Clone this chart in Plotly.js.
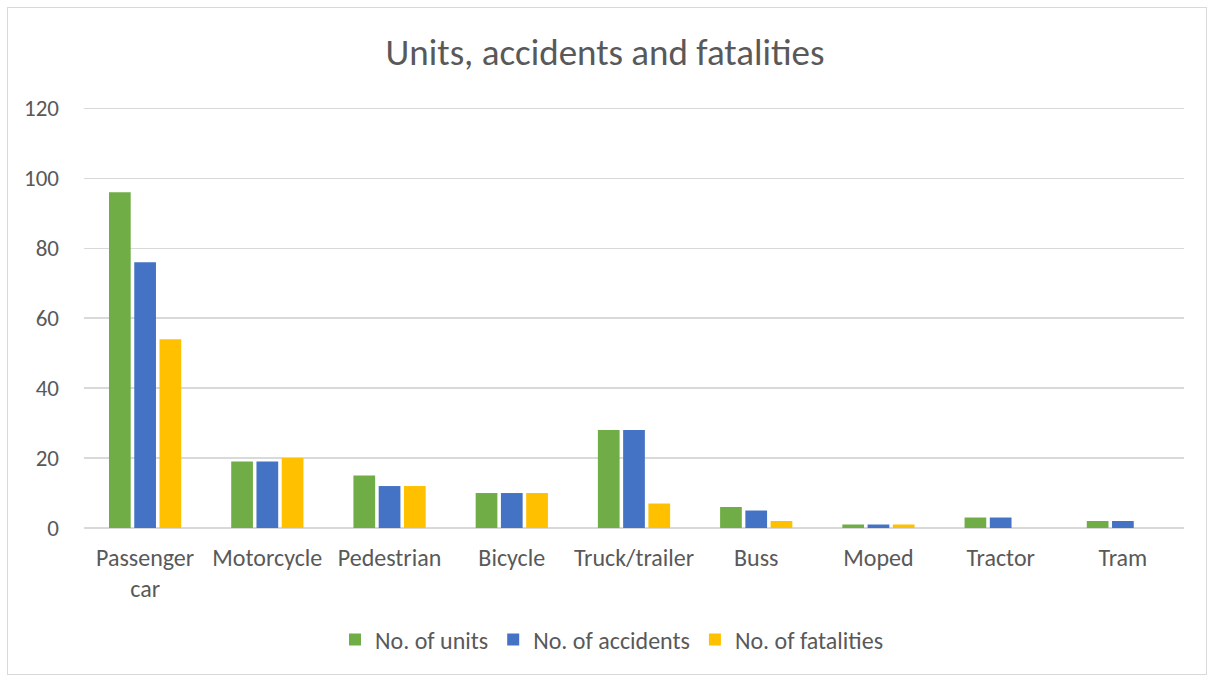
<!DOCTYPE html>
<html>
<head>
<meta charset="utf-8">
<script src="https://cdn.plot.ly/plotly-3.0.1.min.js"></script>
<style>
html,body{margin:0;padding:0;background:#fff;}
#wrap{position:relative;width:1210px;height:678px;}
#chart{position:absolute;left:0;top:0;width:1210px;height:678px;}
#frame{position:absolute;left:7px;top:7px;width:1200px;height:668px;border:1px solid #d9d9d9;box-sizing:border-box;pointer-events:none;}
</style>
</head>
<body>
<div id="wrap"><div id="chart"></div><div id="frame"></div></div>
<script>
const categories = ["Passenger<br>car","Motorcycle","Pedestrian","Bicycle","Truck/trailer","Buss","Moped","Tractor","Tram"];
const units = [96,19,15,10,28,6,1,3,2];
const accidents = [76,19,12,10,28,5,1,3,2];
const fatalities = [54,20,12,10,7,2,1,0,0];
const yTicks = [0,20,40,60,80,100,120];

const font = "Calibri, Carlito, Lato, 'Liberation Sans', sans-serif";
const grey = "#595959";

const traces = [
  {type:"bar", name:"No. of units", x:categories, y:units, marker:{color:"#70AD47"}},
  {type:"bar", name:"No. of accidents", x:categories, y:accidents, marker:{color:"#4472C4"}},
  {type:"bar", name:"No. of fatalities", x:categories, y:fatalities, marker:{color:"#FFC000"}}
];

const layout = {
  width:1210, height:678,
  paper_bgcolor:"rgba(0,0,0,0)", plot_bgcolor:"#fff",
  margin:{l:84, r:26, t:107, b:150},
  font:{family:font, color:grey, size:24},
  title:{text:"Units, accidents and fatalities", font:{family:font, size:37, color:grey}, x:0.5, xanchor:"center", y:0.923, yanchor:"middle", yref:"container"},
  barmode:"group", bargap:0.38, bargroupgap:0.14,
  xaxis:{showgrid:false, zeroline:false, showline:false, ticks:"", tickfont:{size:24, color:grey}, ticklabelstandoff:13},
  yaxis:{range:[0,120.4], tickvals:yTicks, showgrid:true, gridcolor:"#d9d9d9", gridwidth:1.5, zeroline:true, zerolinecolor:"#d9d9d9", zerolinewidth:1.5, showline:false, ticks:"", tickfont:{size:23, color:grey}, ticklabelstandoff:24},
  legend:{orientation:"h", x:0.48, xanchor:"center", y:-0.266, yanchor:"middle", font:{size:24, color:grey}, itemwidth:30, traceorder:"normal"},
  showlegend:true
};

Plotly.newPlot("chart", traces, layout, {displayModeBar:false, staticPlot:true});
</script>
</body>
</html>
